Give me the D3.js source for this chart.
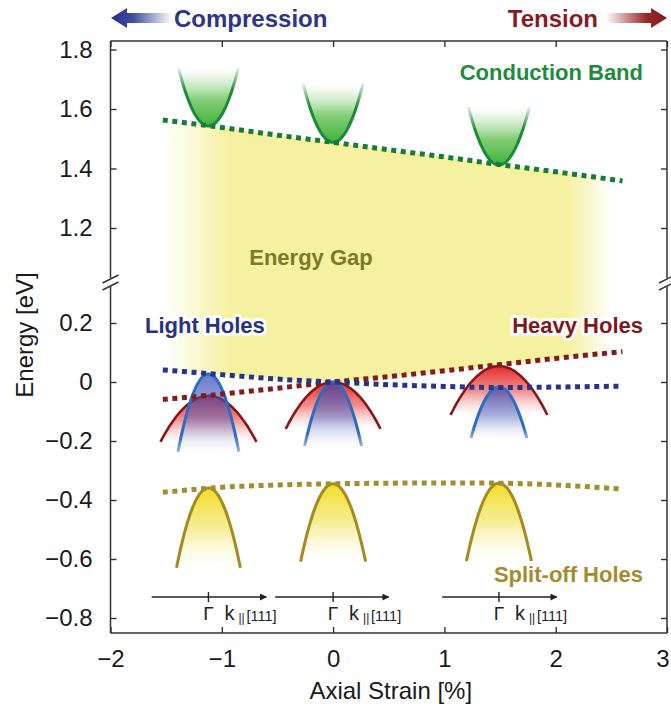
<!DOCTYPE html>
<html><head><meta charset="utf-8">
<script src="https://cdn.jsdelivr.net/npm/d3@7"></script>
<style>
html,body{margin:0;padding:0;background:#fff;}
svg{display:block;font-family:"Liberation Sans",Arial,Helvetica,sans-serif;}
</style></head>
<body>
<svg id="chart" width="671" height="706"></svg>
<script>
// ---------------- data ----------------
const strain       = [-1.53, -1, -0.5, 0, 0.5, 1, 1.5, 2, 2.6];
const conduction   = [1.563, 1.538, 1.512, 1.488, 1.463, 1.439, 1.413, 1.389, 1.358];
const lightHoles   = [0.041, 0.025, 0.010, 0.0, -0.009, -0.015, -0.019, -0.017, -0.014];
const heavyHoles   = [-0.059, -0.041, -0.021, 0.0, 0.018, 0.038, 0.059, 0.080, 0.103];
const splitOff     = [-0.374, -0.357, -0.349, -0.345, -0.343, -0.342, -0.343, -0.349, -0.363];

// band-structure insets (E–k sketches) at three strains
const insetStrain  = [-1.12, 0, 1.49];
const cbApex = [1.543, 1.488, 1.412], cbHalf = [0.27, 0.27, 0.275], cbDepth = [0.195, 0.198, 0.195];
const lhApex = [0.027, 0.0, -0.017],  lhHalf = [0.274, 0.256, 0.251], lhDepth = [0.264, 0.217, 0.173];
const hhApex = [-0.047, 0.0, 0.054],  hhHalf = [0.431, 0.426, 0.435], hhDepth = [0.156, 0.159, 0.166];
const soApex = [-0.359, -0.345, -0.343], soHalf = [0.287, 0.292, 0.292], soDepth = [0.271, 0.264, 0.264];
const kArrowFrom = [-1.63, -0.52, 0.98];
const kArrowTo   = [-0.60, 0.50, 2.01];

const xTicks    = [-2, -1, 0, 1, 2, 3];
const yTopTicks = [1.2, 1.4, 1.6, 1.8];
const yBotTicks = [0.2, 0, -0.2, -0.4, -0.6, -0.8];

// ---------------- layout ----------------
const svg = d3.select("#chart");
const L = 110.5, R = 667, T = 41, B = 633;
const breakTop = 278, breakBot = 286;
const x = d3.scaleLinear([-2, 3], [L, R]);
const yTop = d3.scaleLinear([1.2, 1.8], [228, 49.5]);
const yBot = d3.scaleLinear([-0.8, 0.2], [618, 323]);

const defs = svg.append("defs");
function vgrad(id, stops, flip) {
  const g = defs.append("linearGradient").attr("id", id)
    .attr("x1", 0).attr("y1", flip ? 1 : 0).attr("x2", 0).attr("y2", flip ? 0 : 1);
  stops.forEach(s => g.append("stop").attr("offset", s[0]).attr("stop-color", s[1]).attr("stop-opacity", s[2]));
}
function hgrad(id, x1, x2, stops) {
  const g = defs.append("linearGradient").attr("id", id).attr("gradientUnits", "userSpaceOnUse")
    .attr("x1", x1).attr("y1", 0).attr("x2", x2).attr("y2", 0);
  stops.forEach(s => g.append("stop").attr("offset", s[0]).attr("stop-color", s[1]).attr("stop-opacity", s[2]));
}
vgrad("cbFill", [[0, "#3fb23c", 1], [0.45, "#6cc45e", 0.85], [1, "#b9e2ac", 0.0]], true);
vgrad("cbStroke", [[0, "#1b8a3a", 1], [0.6, "#1b8a3a", 1], [1, "#1b8a3a", 0.1]], true);
vgrad("hhFill", [[0, "#e42a29", 1], [0.5, "#ec6664", 0.75], [1, "#f5b0b0", 0]]);
vgrad("lhFill", [[0, "#3348b4", 0.72], [0.55, "#4a5cbc", 0.5], [1, "#9aa8e0", 0]]);
vgrad("lhStroke", [[0, "#2e6cc0", 1], [0.8, "#2e6cc0", 1], [1, "#2e6cc0", 0.5]]);
vgrad("soFill", [[0, "#f1de25", 1], [0.5, "#f4e87a", 0.8], [1, "#fbf6d0", 0]]);
hgrad("gapFill", 163, 612, [[0, "#f6f1a0", 0], [0.15, "#f6f1a0", 1], [0.9, "#f6f1a0", 1], [1, "#f6f1a0", 0]]);
hgrad("arrowL", 111, 172, [[0, "#27318a", 1], [0.35, "#3f4a9c", 1], [1, "#ffffff", 1]]);
hgrad("arrowR", 606, 667, [[0, "#ffffff", 1], [0.65, "#9a2a2e", 1], [1, "#85171b", 1]]);
defs.append("marker").attr("id", "kHead").attr("viewBox", "0 0 10 10").attr("refX", 9).attr("refY", 5)
  .attr("markerWidth", 9).attr("markerHeight", 7).attr("markerUnits", "userSpaceOnUse").attr("orient", "auto")
  .append("path").attr("d", "M0,0L10,5L0,10Z").attr("fill", "#222");

// ---------------- energy gap ----------------
const gapPts = strain.map((s, i) => ({s, top: conduction[i], bot: Math.max(lightHoles[i], heavyHoles[i])}));
svg.append("path").datum(gapPts)
  .attr("d", d3.area().x(d => x(d.s)).y0(d => yBot(d.bot)).y1(d => yTop(d.top)).curve(d3.curveMonotoneX))
  .attr("fill", "url(#gapFill)");

// ---------------- insets ----------------
function parab(c, apex, half, depth, dir, ys) {
  return d3.range(-1, 1.0001, 0.05).map(k => [x(c + k * half), ys(apex + dir * depth * k * k)]);
}
const lineGen = d3.line().curve(d3.curveCatmullRom);
function drawInset(apexArr, halfArr, depthArr, dir, ys, fill, stroke, sw) {
  insetStrain.forEach((c, i) => {
    const pts = parab(c, apexArr[i], halfArr[i], depthArr[i], dir, ys);
    svg.append("path").attr("d", lineGen(pts) + "Z").attr("fill", fill).attr("stroke", "none");
    svg.append("path").attr("d", lineGen(pts)).attr("fill", "none").attr("stroke", stroke).attr("stroke-width", sw);
  });
}
drawInset(cbApex, cbHalf, cbDepth, 1, yTop, "url(#cbFill)", "url(#cbStroke)", 3);
drawInset(hhApex, hhHalf, hhDepth, -1, yBot, "url(#hhFill)", "#8a1517", 2.6);
drawInset(lhApex, lhHalf, lhDepth, -1, yBot, "url(#lhFill)", "url(#lhStroke)", 3);
drawInset(soApex, soHalf, soDepth, -1, yBot, "url(#soFill)", "#a48a1f", 3);

// ---------------- dotted band edges ----------------
function dotted(vals, ys, color) {
  svg.append("path").datum(strain.map((s, i) => [s, vals[i]]))
    .attr("d", d3.line().x(d => x(d[0])).y(d => ys(d[1])).curve(d3.curveMonotoneX))
    .attr("fill", "none").attr("stroke", color).attr("stroke-width", 5)
    .attr("stroke-dasharray", "5 4.6");
}
dotted(conduction, yTop, "#157c3a");
dotted(splitOff, yBot, "#a68d2b");
dotted(heavyHoles, yBot, "#841a1c");
dotted(lightHoles, yBot, "#25348a");

// ---------------- k-axis annotations ----------------
const kY = yBot(-0.729);
insetStrain.forEach((c, i) => {
  svg.append("line").attr("x1", x(kArrowFrom[i])).attr("x2", x(kArrowTo[i])).attr("y1", kY).attr("y2", kY)
    .attr("stroke", "#222").attr("stroke-width", 1.4).attr("marker-end", "url(#kHead)");
  svg.append("line").attr("x1", x(c)).attr("x2", x(c)).attr("y1", kY - 5).attr("y2", kY + 5)
    .attr("stroke", "#222").attr("stroke-width", 1.4);
  const g = svg.append("g").attr("fill", "#222");
  g.append("text").attr("x", x(c)).attr("y", kY + 23).attr("text-anchor", "middle")
    .attr("font-size", 19).text("Γ");
  g.append("text").attr("x", x(c) + 16).attr("y", kY + 23).attr("font-size", 20).text("k");
  g.append("text").attr("x", x(c) + 30).attr("y", kY + 25).attr("font-size", 12).text("||");
  g.append("text").attr("x", x(c) + 38).attr("y", kY + 24).attr("font-size", 14.5).text("[111]");
});

// ---------------- frame & axes ----------------
const ax = svg.append("g").attr("stroke", "#333").attr("stroke-width", 1.5).attr("fill", "none");
ax.append("line").attr("x1", L).attr("x2", R).attr("y1", T).attr("y2", T);
ax.append("line").attr("x1", L).attr("x2", R).attr("y1", B).attr("y2", B);
[L, R].forEach(px => {
  ax.append("line").attr("x1", px).attr("x2", px).attr("y1", T).attr("y2", breakTop);
  ax.append("line").attr("x1", px).attr("x2", px).attr("y1", breakBot).attr("y2", B);
  ax.append("path").attr("d", `M${px - 8},${breakTop + 5}L${px + 8},${breakTop - 3}`);
  ax.append("path").attr("d", `M${px - 8},${breakBot + 4}L${px + 8},${breakBot - 4}`);
});

function styleAxis(g) {
  g.select(".domain").remove();
  g.selectAll(".tick line").attr("stroke", "#333").attr("stroke-width", 1.4);
  g.selectAll(".tick text").attr("fill", "#1a1a1a").attr("font-size", 24)
    .attr("font-family", "Liberation Sans, Arial, sans-serif");
}
const fmt = d3.format("");
svg.append("g").attr("transform", `translate(${L},0)`)
  .call(d3.axisLeft(yTop).tickValues(yTopTicks).tickSize(-6).tickPadding(18).tickFormat(fmt)).call(styleAxis);
svg.append("g").attr("transform", `translate(${L},0)`)
  .call(d3.axisLeft(yBot).tickValues(yBotTicks).tickSize(-6).tickPadding(18).tickFormat(fmt)).call(styleAxis);
svg.append("g").attr("transform", `translate(${R},0)`)
  .call(d3.axisRight(yTop).tickValues(yTopTicks).tickSize(-6).tickFormat("")).call(styleAxis);
svg.append("g").attr("transform", `translate(${R},0)`)
  .call(d3.axisRight(yBot).tickValues(yBotTicks).tickSize(-6).tickFormat("")).call(styleAxis);
const xAxisG = svg.append("g").attr("transform", `translate(0,${B})`)
  .call(d3.axisBottom(x).tickValues(xTicks).tickSize(-6).tickPadding(17).tickFormat(fmt)).call(styleAxis);
// keep the last label ("3") inside the page edge
xAxisG.selectAll(".tick text").filter(d => d === xTicks[xTicks.length - 1])
  .attr("text-anchor", "end").attr("dx", 2);
svg.append("g").attr("transform", `translate(0,${T})`)
  .call(d3.axisTop(x).tickValues(xTicks).tickSize(-6).tickFormat("")).call(styleAxis);

svg.append("text").attr("x", (L + R) / 2 + 2).attr("y", 699).attr("text-anchor", "middle")
  .attr("font-size", 24).attr("fill", "#1a1a1a").text("Axial Strain [%]");
svg.append("text").attr("transform", "translate(33,335) rotate(-90)").attr("text-anchor", "middle")
  .attr("font-size", 24).attr("fill", "#1a1a1a").text("Energy [eV]");

// ---------------- labels ----------------
function label(txt, xx, yy, anchor, color, halo) {
  const t = svg.append("text").attr("x", xx).attr("y", yy).attr("text-anchor", anchor)
    .attr("font-size", 22).attr("font-weight", "bold").attr("fill", color).text(txt);
  if (halo) t.attr("stroke", "#fff").attr("stroke-width", 6).attr("stroke-linejoin", "round")
    .attr("paint-order", "stroke");
  return t;
}
label("Conduction Band", 643, 80, "end", "#1e8b3e", false);
label("Energy Gap", 311, 265, "middle", "#7d7a25", false);
label("Light Holes", 145, 333, "start", "#273382", true);
label("Heavy Holes", 643, 333, "end", "#7c1a1c", true);
label("Split-off Holes", 643, 582, "end", "#a48c2c", false);

// top arrows
svg.append("path").attr("d", "M111,18L127,8L127,13L172,13L172,23L127,23L127,28Z").attr("fill", "url(#arrowL)");
svg.append("path").attr("d", "M667,18L651,8L651,13L606,13L606,23L651,23L651,28Z").attr("fill", "url(#arrowR)");
svg.append("text").attr("x", 174).attr("y", 27).attr("font-size", 24).attr("font-weight", "bold")
  .attr("fill", "#2b3589").text("Compression");
svg.append("text").attr("x", 598).attr("y", 27).attr("text-anchor", "end").attr("font-size", 24)
  .attr("font-weight", "bold").attr("fill", "#8b1a1f").text("Tension");
</script>
</body></html>
